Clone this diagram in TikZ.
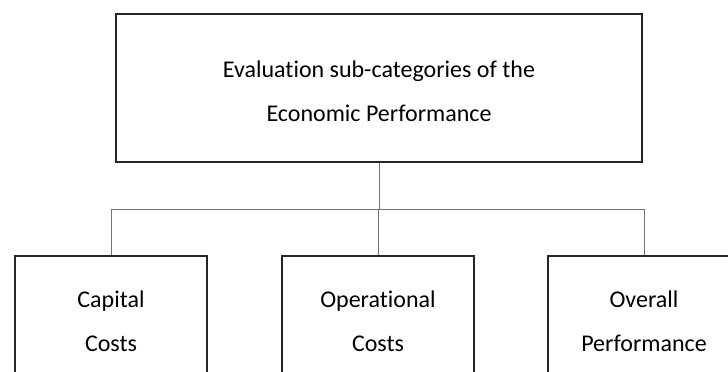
\documentclass[tikz,border=0pt]{standalone}
\usepackage{fontspec}
\setmainfont[Ligatures=NoCommon]{Carlito}
\usepackage{tikz}
\usetikzlibrary{positioning,calc}
\tikzset{%
     topbox/.style = { draw=black!85, line width=0.7pt, minimum width=263pt, minimum height=74pt, align=center, font=\fontsize{12}{22}\selectfont },
     subbox/.style = { draw=black!85, line width=0.7pt, minimum width=96pt, minimum height=65pt, align=center, font=\fontsize{12}{22}\selectfont },
       link/.style = { draw=black!55, line width=0.5pt }
}
\newcommand{\toppad}{\rule{0pt}{12pt}}
\begin{document}
\begin{tikzpicture}[x=0.5pt,y=0.5pt]
\useasboundingbox (0,0) rectangle (728,371);
\clip (0,0) rectangle (728,371);
% main category
\node[topbox] (econ) at (379,283) {\toppad Evaluation sub-categories of the\\Economic Performance};
% sub-categories
\node[subbox] (capital) at (111,50) {Capital\\Costs};
\node[subbox] (operational) at (378,50) {Operational\\Costs};
\node[subbox] (overall) at (644,50) {Overall\\Performance};
\coordinate (bar) at (379,162);
\draw[link] (econ.south) -- (bar);
\draw[link] (capital.north) -- (capital.north |- bar) -- (overall.north |- bar) -- (overall.north);
\draw[link] (operational.north) -- (operational.north |- bar);
\end{tikzpicture}
\end{document}
